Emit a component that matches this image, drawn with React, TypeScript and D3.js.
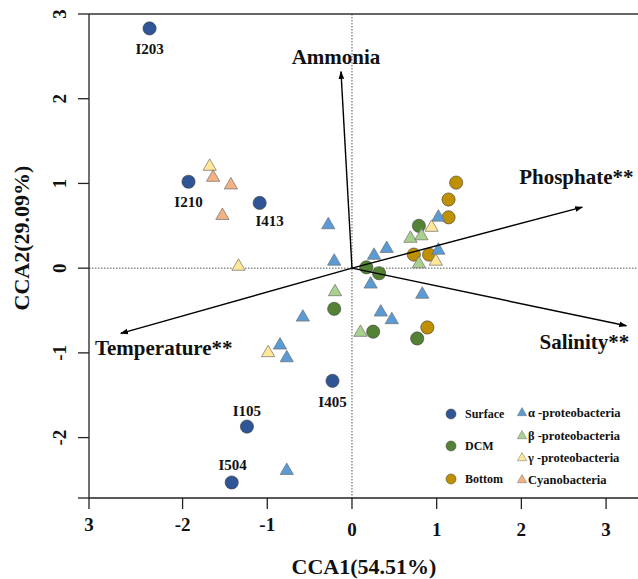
import React from "react";
import * as d3 from "d3";

// ---------- data ----------
const xTickValues = [-3.105, -2, -1, 0, 1, 2, 3];
const xTickLabels = ["3", "-2", "-1", "0", "1", "2", "3"];
const yTickValues = [3, 2, 1, 0, -1, -2];
const yTickLabels = ["3", "2", "1", "0", "-1", "-2"];

const surfaceNames = ["I203", "I210", "I413", "I405", "I105", "I504"];
const surfaceX = [-2.39, -1.93, -1.09, -0.23, -1.24, -1.42];
const surfaceY = [2.83, 1.02, 0.77, -1.33, -1.87, -2.53];

const dcmX = [0.79, 0.17, 0.32, -0.21, 0.25, 0.77];
const dcmY = [0.5, 0.01, -0.06, -0.48, -0.75, -0.83];

const bottomX = [1.23, 1.14, 1.14, 0.73, 0.91, 0.89];
const bottomY = [1.01, 0.81, 0.6, 0.16, 0.16, -0.7];

const alphaX = [-0.28, 1.02, 0.41, 0.26, -0.21, 1.02, 0.22, 0.83, 0.34, 0.47, -0.58, -0.85, -0.77, -0.77];
const alphaY = [0.51, 0.6, 0.23, 0.15, 0.08, 0.21, -0.19, -0.31, -0.52, -0.61, -0.58, -0.91, -1.06, -2.39];

const betaX = [0.69, 0.82, 0.79, -0.2, 0.1];
const betaY = [0.35, 0.38, 0.05, -0.28, -0.76];

const gammaX = [0.94, 0.99, -0.99, -1.68, -1.34];
const gammaY = [0.48, 0.08, -1.0, 1.2, 0.02];

const cyanoX = [-1.64, -1.43, -1.53];
const cyanoY = [1.07, 0.98, 0.62];

const envNames = ["Ammonia", "Phosphate**", "Salinity**", "Temperature**"];
const envX = [-0.13, 2.72, 3.24, -2.73];
const envY = [2.32, 0.72, -0.68, -0.77];

const depthLegend = ["Surface", "DCM", "Bottom"];
const taxaLegend = ["α -proteobacteria", "β -proteobacteria", "γ -proteobacteria", "Cyanobacteria"];

// ---------- styles ----------
const W = 638;
const H = 579;
const FONT = "'Liberation Serif', 'Times New Roman', serif";
const cSurface = "#2F5597";
const cDCM = "#548235";
const cBottom = "#BF9000";
const cAlpha = "#5B9BD5";
const cBeta = "#A9D18E";
const cGamma = "#FFE699";
const cCyano = "#F4B183";

// label placement (pixel offsets from point / arrow tip)
const surfaceLabelOffset = [
  [0, 21],
  [0, 20],
  [10, 18],
  [0, 21],
  [0, -16],
  [1, -17],
];
const envLabelOffset = [
  [-5, -15],
  [-6, -30],
  [-42, 16],
  [43, 15],
];

export default function App() {
  const x = d3.scaleLinear().domain([-3.105, 3.377]).range([89, 638]);
  const y = d3.scaleLinear().domain([-2.713, 3]).range([498, 14]);
  const x0 = x.range()[0];
  const x1 = x.range()[1];
  const yTop = y.range()[1];
  const yBot = y.range()[0];

  const tri = d3.symbol().type(d3.symbolTriangle).size(76)() as string;
  const triLeg = d3.symbol().type(d3.symbolTriangle).size(38)() as string;

  const circles = (xs: number[], ys: number[], fill: string, key: string) =>
    xs.map((v, i) => (
      <circle key={key + i} cx={x(v)} cy={y(ys[i])} r={6.6} fill={fill} stroke="#3a3a3a" strokeWidth={0.6} />
    ));
  const triangles = (xs: number[], ys: number[], fill: string, key: string) =>
    xs.map((v, i) => (
      <path
        key={key + i}
        d={tri}
        transform={`translate(${x(v)},${y(ys[i])})`}
        fill={fill}
        stroke="#6f6f6f"
        strokeWidth={0.7}
      />
    ));

  const legX1 = 451;
  const legX2 = 522;
  const legY1 = [414, 446, 479];
  const legY2 = [413, 436, 458, 480];

  return (
    <svg
      width={W}
      height={H}
      style={{ position: "absolute", left: 0, top: 0, background: "#fff" }}
      fontFamily={FONT}
    >
      <defs>
        <marker
          id="ah"
          viewBox="0 0 10 10"
          refX={9}
          refY={5}
          markerWidth={8}
          markerHeight={8}
          markerUnits="userSpaceOnUse"
          orient="auto"
        >
          <path d="M0,1.5 L10,5 L0,8.5 Z" fill="#000" />
        </marker>
      </defs>
      <rect x={0} y={0} width={W} height={H} fill="#fff" />

      {/* reference dotted lines */}
      <line x1={x0} x2={x1} y1={y(0)} y2={y(0)} stroke="#555" strokeWidth={1} strokeDasharray="1.5,1.5" />
      <line x1={x(0)} x2={x(0)} y1={yTop} y2={yBot} stroke="#555" strokeWidth={1} strokeDasharray="1.5,1.5" />

      {/* frame / axes */}
      <line x1={x0} x2={x1} y1={yTop} y2={yTop} stroke="#333" strokeWidth={1.6} />
      <line x1={x0} x2={x1} y1={yBot} y2={yBot} stroke="#222" strokeWidth={1.3} />
      <line x1={x0} x2={x0} y1={yTop} y2={yBot} stroke="#222" strokeWidth={1.3} />
      <line x1={x0 - 11} x2={x0} y1={yBot} y2={yBot} stroke="#222" strokeWidth={1.3} />

      {/* x ticks */}
      {xTickValues.map((v, i) => (
        <g key={"xt" + i}>
          <line x1={x(v)} x2={x(v)} y1={yBot} y2={yBot + 11} stroke="#222" strokeWidth={1.3} />
          <text
            x={x(v)}
            y={yBot + (v < -0.5 ? 33 : 38)}
            textAnchor="middle"
            fontSize={19}
            fontWeight="bold"
            fill="#111"
          >
            {xTickLabels[i]}
          </text>
        </g>
      ))}
      {/* y ticks */}
      {yTickValues.map((v, i) => (
        <g key={"yt" + i}>
          <line x1={x0 - 11} x2={x0} y1={y(v)} y2={y(v)} stroke="#222" strokeWidth={1.3} />
          <text
            transform={`translate(${x0 - 23},${y(v)}) rotate(-90)`}
            textAnchor="middle"
            fontSize={19}
            fontWeight="bold"
            fill="#111"
          >
            {yTickLabels[i]}
          </text>
        </g>
      ))}

      {/* axis titles */}
      <text x={364} y={574} textAnchor="middle" fontSize={22} fontWeight="bold" fill="#111">
        CCA1(54.51%)
      </text>
      <text
        transform={`translate(29,238) rotate(-90)`}
        textAnchor="middle"
        fontSize={22}
        fontWeight="bold"
        fill="#111"
      >
        CCA2(29.09%)
      </text>

      {/* points */}
      {circles(surfaceX, surfaceY, cSurface, "s")}
      {circles(dcmX, dcmY, cDCM, "d")}
      {circles(bottomX, bottomY, cBottom, "b")}
      {triangles(alphaX, alphaY, cAlpha, "a")}
      {triangles(betaX, betaY, cBeta, "be")}
      {triangles(gammaX, gammaY, cGamma, "g")}
      {triangles(cyanoX, cyanoY, cCyano, "c")}

      {/* sample labels */}
      {surfaceNames.map((n, i) => (
        <text
          key={"sl" + i}
          x={x(surfaceX[i]) + surfaceLabelOffset[i][0]}
          y={y(surfaceY[i]) + surfaceLabelOffset[i][1] + 5}
          textAnchor="middle"
          fontSize={15}
          fontWeight="bold"
          fill="#111"
        >
          {n}
        </text>
      ))}

      {/* environmental arrows */}
      {envNames.map((n, i) => (
        <g key={"env" + i}>
          <line
            x1={x(0)}
            y1={y(0)}
            x2={x(envX[i])}
            y2={y(envY[i])}
            stroke="#000"
            strokeWidth={1.4}
            markerEnd="url(#ah)"
          />
          <text
            x={x(envX[i]) + envLabelOffset[i][0]}
            y={y(envY[i]) + envLabelOffset[i][1] + 7}
            textAnchor="middle"
            fontSize={21}
            fontWeight="bold"
            fill="#111"
          >
            {n}
          </text>
        </g>
      ))}

      {/* legend */}
      {depthLegend.map((n, i) => (
        <g key={"l1" + i}>
          <circle
            cx={legX1}
            cy={legY1[i]}
            r={5}
            fill={[cSurface, cDCM, cBottom][i]}
            stroke="#3a3a3a"
            strokeWidth={0.5}
          />
          <text x={legX1 + 14} y={legY1[i] + 4} fontSize={12} fontWeight="bold" fill="#111">
            {n}
          </text>
        </g>
      ))}
      {taxaLegend.map((n, i) => (
        <g key={"l2" + i}>
          <path
            d={triLeg}
            transform={`translate(${legX2},${legY2[i]})`}
            fill={[cAlpha, cBeta, cGamma, cCyano][i]}
            stroke="#6f6f6f"
            strokeWidth={0.5}
          />
          <text x={legX2 + 6} y={legY2[i] + 4} fontSize={12.5} fontWeight="bold" fill="#111">
            {n}
          </text>
        </g>
      ))}
    </svg>
  );
}
